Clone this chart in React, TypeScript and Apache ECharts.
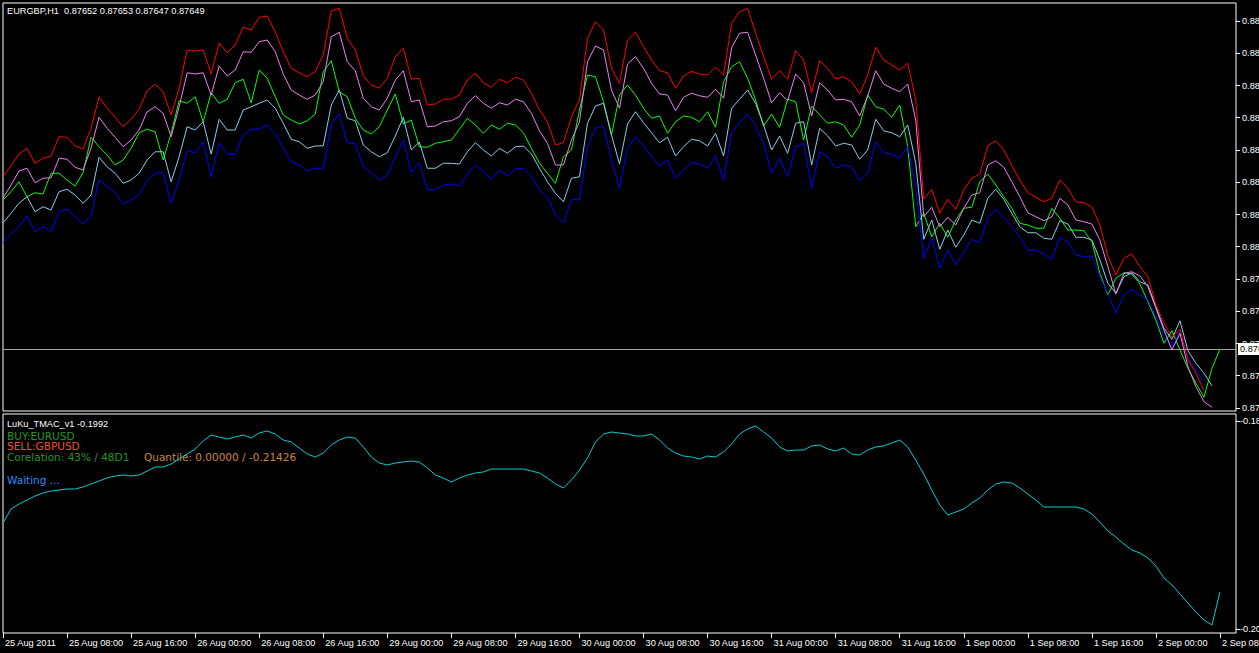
import { useEffect, useRef } from "react";
import * as echarts from "echarts";

// ---- time axis (H1 bars, weekend skipped) ----
const days = ["25 Aug", "26 Aug", "29 Aug", "30 Aug", "31 Aug", "1 Sep", "2 Sep"];
const lastDayHours = 11; // 2 Sep 00:00 .. 10:00 (last two slots are the empty right margin)
const firstLabel = "25 Aug 2011";

// ---- main chart price scale ----
const priceMin = 0.87401;
const priceMax = 0.89033;
const priceTicks = [0.87413, 0.87542, 0.87671, 0.878, 0.87929, 0.88058, 0.88187, 0.88316, 0.88445, 0.88574, 0.88703, 0.88832, 0.88961];
const lastClose = 0.87649;
const titleText = "EURGBP,H1  0.87652 0.87653 0.87647 0.87649";

// close price (green line)
const closePrice = [
  0.88245, 0.88278, 0.88318, 0.88258, 0.88274, 0.88269, 0.88352, 0.88352, 0.88325, 0.88301,
  0.88354, 0.88496, 0.88458, 0.88425, 0.88385, 0.88405, 0.88452, 0.88514, 0.88528, 0.88518,
  0.88405, 0.88512, 0.88642, 0.88632, 0.88658, 0.88558, 0.88674, 0.88632, 0.88648, 0.88714,
  0.88728, 0.88634, 0.88765, 0.88732, 0.88658, 0.88585, 0.88565, 0.88549, 0.88562, 0.88589,
  0.88758, 0.88802, 0.88678, 0.88658, 0.88572, 0.88525, 0.88509, 0.88538, 0.88605, 0.88669,
  0.88549, 0.88565, 0.88458, 0.88456, 0.88472, 0.88478, 0.88485, 0.88528, 0.88572, 0.88545,
  0.88512, 0.88545, 0.88528, 0.88552, 0.88545, 0.88514, 0.88452, 0.88392, 0.88352, 0.88312,
  0.88418, 0.88445, 0.88605, 0.88745, 0.88738, 0.88638, 0.88505, 0.88665, 0.88705, 0.88665,
  0.88612, 0.88572, 0.88581, 0.88512, 0.88558, 0.88581, 0.88576, 0.88558, 0.88598, 0.88536,
  0.88718, 0.88778, 0.88798, 0.88732, 0.88645, 0.88541, 0.88589, 0.88536, 0.88648, 0.88638,
  0.88485, 0.88621, 0.88585, 0.88552, 0.88558, 0.88545, 0.88496, 0.88545, 0.88665, 0.88618,
  0.88608, 0.88576, 0.88625, 0.88458, 0.88138, 0.88192, 0.88098, 0.88152, 0.88096, 0.88165,
  0.88212, 0.88216, 0.88318, 0.88349, 0.88305, 0.88258, 0.88212, 0.88152, 0.88145, 0.88132,
  0.88132, 0.88212, 0.88172, 0.88125, 0.88125, 0.88122, 0.88078, 0.87952, 0.87865, 0.87932,
  0.87954, 0.87949, 0.87909, 0.87838, 0.87765, 0.87672, 0.87722, 0.87645, 0.87572, 0.87512,
  0.87456, 0.87572, 0.87649,
];

// upper band (red)
const bandRed = [
  0.88338, 0.88382, 0.88429, 0.88452, 0.88392, 0.88412, 0.88421, 0.88498, 0.88496, 0.88461,
  0.88449, 0.88532, 0.88658, 0.88612, 0.88576, 0.88538, 0.88568, 0.88608, 0.88682, 0.88708,
  0.88678, 0.88585, 0.88692, 0.88845, 0.88841, 0.88845, 0.88749, 0.88874, 0.88834, 0.88865,
  0.88936, 0.88925, 0.88976, 0.88981, 0.88918, 0.88838, 0.88772, 0.88754, 0.88738, 0.88758,
  0.88825, 0.89001, 0.89012, 0.88892, 0.88845, 0.88741, 0.88705, 0.88692, 0.88732, 0.88818,
  0.88852, 0.88729, 0.88732, 0.88625, 0.88629, 0.88648, 0.88649, 0.88665, 0.88725, 0.88752,
  0.88714, 0.88696, 0.88728, 0.88714, 0.88736, 0.88725, 0.88672, 0.88605, 0.88558, 0.88465,
  0.88474, 0.88578, 0.88645, 0.88892, 0.88958, 0.88925, 0.88772, 0.88712, 0.88885, 0.88916,
  0.88858, 0.88805, 0.88762, 0.88754, 0.88692, 0.88741, 0.8876, 0.88749, 0.88745, 0.88776,
  0.88745, 0.88952, 0.88998, 0.89012, 0.88912, 0.88818, 0.88728, 0.88762, 0.88728, 0.88842,
  0.88805, 0.88674, 0.88802, 0.88772, 0.88729, 0.88738, 0.88718, 0.88669, 0.88745, 0.88856,
  0.88805, 0.88785, 0.88765, 0.88792, 0.88645, 0.88248, 0.88288, 0.88192, 0.88248, 0.88208,
  0.88285, 0.88332, 0.88349, 0.88462, 0.88482, 0.88445, 0.88382, 0.88325, 0.88274, 0.88256,
  0.88238, 0.88252, 0.88325, 0.88292, 0.88238, 0.88234, 0.88218, 0.88145, 0.88021, 0.87945,
  0.88012, 0.88029, 0.87978, 0.87938, 0.87825, 0.87754, 0.87696, 0.87728, 0.87605, 0.87552,
  0.87482,
];

// inner upper band (violet)
const bandViolet = [
  0.88252, 0.88305, 0.88361, 0.88372, 0.88314, 0.88332, 0.88334, 0.88412, 0.88408, 0.88376,
  0.88365, 0.88453, 0.88576, 0.88532, 0.88496, 0.88458, 0.88485, 0.88525, 0.88598, 0.88618,
  0.88592, 0.88498, 0.88618, 0.88754, 0.88749, 0.88754, 0.88665, 0.88781, 0.88741, 0.88765,
  0.88838, 0.88836, 0.88878, 0.88885, 0.88838, 0.88749, 0.88685, 0.88665, 0.88648, 0.88665,
  0.88718, 0.88898, 0.88916, 0.88798, 0.88762, 0.88652, 0.88618, 0.88605, 0.88652, 0.88725,
  0.88762, 0.88638, 0.88645, 0.88538, 0.88541, 0.88558, 0.88562, 0.88578, 0.88632, 0.88662,
  0.88632, 0.88612, 0.88634, 0.88625, 0.88648, 0.88638, 0.88592, 0.88522, 0.88472, 0.88385,
  0.88385, 0.88485, 0.88558, 0.88798, 0.88861, 0.88845, 0.88685, 0.88612, 0.88789, 0.88818,
  0.88772, 0.88712, 0.88669, 0.88665, 0.88602, 0.88656, 0.88672, 0.88662, 0.88656, 0.88688,
  0.88652, 0.88854, 0.88912, 0.88916, 0.88825, 0.88732, 0.88634, 0.88674, 0.88642, 0.88749,
  0.88714, 0.88581, 0.88714, 0.88685, 0.88645, 0.88648, 0.88638, 0.88581, 0.88661, 0.88762,
  0.88709, 0.88692, 0.88678, 0.88709, 0.88565, 0.88178, 0.88216, 0.88138, 0.88176, 0.88145,
  0.88212, 0.88265, 0.88274, 0.88385, 0.88402, 0.88376, 0.88318, 0.88258, 0.88194, 0.88178,
  0.88162, 0.88178, 0.88252, 0.88225, 0.88165, 0.88158, 0.88149, 0.88085, 0.87978, 0.87869,
  0.87952, 0.87958, 0.87941, 0.87898, 0.87812, 0.87725, 0.87645, 0.87712, 0.87578, 0.87498,
  0.87438, 0.87416,
];

// inner lower band (sky blue)
const bandSky = [
  0.88154, 0.88192, 0.88232, 0.88258, 0.88198, 0.88218, 0.88205, 0.88278, 0.88288, 0.88265,
  0.88232, 0.88265, 0.88416, 0.88378, 0.88352, 0.88312, 0.88325, 0.88352, 0.88405, 0.88438,
  0.88438, 0.88318, 0.88418, 0.88538, 0.88525, 0.88558, 0.88429, 0.88568, 0.88525, 0.88525,
  0.88605, 0.88618, 0.88632, 0.88645, 0.88612, 0.88552, 0.88488, 0.88478, 0.88452, 0.88461,
  0.88462, 0.88625, 0.88685, 0.88572, 0.88562, 0.88465, 0.88438, 0.88418, 0.88434, 0.88501,
  0.88576, 0.88445, 0.88477, 0.88372, 0.88372, 0.88392, 0.88392, 0.88389, 0.88438, 0.88474,
  0.88445, 0.88421, 0.88452, 0.88432, 0.88458, 0.88461, 0.88429, 0.88372, 0.88318, 0.88272,
  0.88238, 0.88332, 0.88338, 0.88552, 0.88621, 0.88632, 0.88505, 0.88389, 0.88549, 0.88598,
  0.88554, 0.88514, 0.88474, 0.88496, 0.88421, 0.88458, 0.88488, 0.88482, 0.88461, 0.88512,
  0.88421, 0.88612, 0.88648, 0.88685, 0.88632, 0.88545, 0.88445, 0.88501, 0.88432, 0.88552,
  0.88558, 0.88385, 0.88532, 0.88501, 0.88461, 0.88472, 0.88465, 0.88408, 0.88445, 0.88568,
  0.88522, 0.88514, 0.88498, 0.88545, 0.88392, 0.88088, 0.88165, 0.88048, 0.88125, 0.88056,
  0.88105, 0.88165, 0.88152, 0.88252, 0.88288, 0.88248, 0.88192, 0.88138, 0.88114, 0.88114,
  0.88092, 0.88088, 0.88162, 0.88149, 0.88096, 0.88096, 0.88085, 0.88005, 0.87912, 0.87872,
  0.87938, 0.87954, 0.87918, 0.87905, 0.87818, 0.87732, 0.87688, 0.87762, 0.87642, 0.87592,
  0.87552, 0.87502,
];

// lower band (blue)
const bandBlue = [
  0.88074, 0.88112, 0.88138, 0.88181, 0.88118, 0.88138, 0.88118, 0.88198, 0.88208, 0.88178,
  0.88149, 0.88181, 0.88328, 0.88298, 0.88274, 0.88229, 0.88245, 0.88265, 0.88325, 0.88352,
  0.88356, 0.88232, 0.88325, 0.88442, 0.88434, 0.88478, 0.88338, 0.88474, 0.88429, 0.88429,
  0.88505, 0.88528, 0.88528, 0.88545, 0.88512, 0.88452, 0.88398, 0.88385, 0.88361, 0.88372,
  0.88372, 0.88545, 0.88592, 0.88474, 0.88469, 0.88378, 0.88354, 0.88325, 0.88345, 0.88416,
  0.88485, 0.88354, 0.88394, 0.88288, 0.88285, 0.88305, 0.88309, 0.88301, 0.88349, 0.88385,
  0.88358, 0.88328, 0.88362, 0.88342, 0.88369, 0.88372, 0.88341, 0.88285, 0.88258, 0.88185,
  0.88154, 0.88248, 0.88245, 0.88458, 0.88532, 0.88541, 0.88405, 0.88292, 0.88452, 0.88498,
  0.88458, 0.88421, 0.88381, 0.88405, 0.88332, 0.88365, 0.88394, 0.88389, 0.88372, 0.88422,
  0.88325, 0.88514, 0.88554, 0.88589, 0.88541, 0.88472, 0.88352, 0.88412, 0.88338, 0.88458,
  0.88472, 0.88292, 0.88438, 0.88418, 0.88372, 0.88385, 0.88378, 0.88322, 0.88352, 0.88478,
  0.88434, 0.88429, 0.88412, 0.88461, 0.88298, 0.88012, 0.88092, 0.87972, 0.88045, 0.87985,
  0.88034, 0.88088, 0.88074, 0.88172, 0.88208, 0.88176, 0.88138, 0.88096, 0.88045, 0.88045,
  0.88029, 0.88008, 0.88096, 0.88078, 0.88025, 0.88018, 0.88021, 0.87938, 0.87872, 0.87792,
  0.87865, 0.87888, 0.87865, 0.87845, 0.87778, 0.87698, 0.87658, 0.87718, 0.87612, 0.87565,
  0.87518,
];

// ---- indicator window ----
const indMin = -0.2033;
const indMax = -0.1814;
const indTicks = [-0.1821, -0.2029];
const indName = "LuKu_TMAC_v1 -0.1992";
const indicator = [
  -0.1923, -0.1909, -0.1904, -0.19, -0.1896, -0.1893, -0.1891, -0.189, -0.1889, -0.1889,
  -0.1887, -0.1884, -0.1881, -0.1878, -0.1876, -0.1875, -0.1876, -0.1875, -0.1871, -0.1867,
  -0.1867, -0.1864, -0.1859, -0.1854, -0.1849, -0.1841, -0.1835, -0.1837, -0.1839, -0.1837,
  -0.1835, -0.1838, -0.1833, -0.1831, -0.1834, -0.184, -0.1842, -0.1848, -0.1854, -0.1857,
  -0.1853, -0.1845, -0.184, -0.1837, -0.1838, -0.1847, -0.1857, -0.1863, -0.1865, -0.1863,
  -0.1862, -0.1861, -0.1862, -0.1868, -0.1875, -0.1878, -0.1882, -0.1878, -0.1875, -0.1873,
  -0.1872, -0.1869, -0.1869, -0.1869, -0.1869, -0.1869, -0.1871, -0.1873, -0.1878, -0.1884,
  -0.1888, -0.188, -0.187, -0.1858, -0.1842, -0.1834, -0.1832, -0.1833, -0.1834, -0.1836,
  -0.1836, -0.1834, -0.184, -0.1848, -0.1853, -0.1856, -0.1857, -0.1859, -0.1856, -0.1857,
  -0.1852, -0.1844, -0.1834, -0.1829, -0.1826, -0.1832, -0.1838, -0.1847, -0.1851, -0.185,
  -0.185, -0.1846, -0.1845, -0.1849, -0.1851, -0.1848, -0.1854, -0.1855, -0.185, -0.1847,
  -0.1846, -0.1843, -0.184, -0.1847, -0.186, -0.1874, -0.189, -0.1905, -0.1915, -0.1912,
  -0.1909, -0.1903, -0.1898, -0.189, -0.1884, -0.1882, -0.1883, -0.1888, -0.1894, -0.19,
  -0.1907, -0.1907, -0.1907, -0.1907, -0.1907, -0.1909, -0.1914, -0.1922, -0.1931, -0.1937,
  -0.1944, -0.195, -0.1953, -0.1958, -0.1966, -0.1978, -0.1985, -0.1994, -0.2003, -0.2012,
  -0.202, -0.2025, -0.1992,
];

const infoLines = [
  { text: "BUY:EURUSD", color: "#1f9a1f", x: 7, y: 435.5 },
  { text: "SELL:GBPUSD", color: "#f2522d", x: 7, y: 446 },
  { text: "Corelation: 43% / 48D1", color: "#1f9a1f", x: 7, y: 457.3 },
  { text: "Quantile: 0.00000 / -0.21426", color: "#cd853f", x: 144, y: 457.3 },
  { text: "Waiting ...", color: "#1e90ff", x: 7, y: 480 },
];

const MT_FONT = "Liberation Sans";
const IND_FONT = "DejaVu Sans";

function buildCategories(): string[] {
  const out: string[] = [];
  days.forEach((d, di) => {
    const n = di === days.length - 1 ? lastDayHours : 24;
    for (let h = 0; h < n; h++) out.push(`${d} ${String(h).padStart(2, "0")}:00`);
  });
  return out;
}

export default function App() {
  const ref = useRef<HTMLDivElement>(null);

  useEffect(() => {
    if (!ref.current) return;
    const chart = echarts.init(ref.current, undefined, { renderer: "svg" });
    const categories = buildCategories();

    const lineSeries = (name: string, data: number[], color: string) => ({
      name,
      type: "line",
      xAxisIndex: 0,
      yAxisIndex: 0,
      data,
      showSymbol: false,
      symbol: "none",
      silent: true,
      lineStyle: { color, width: 1 },
      z: 3,
    });

    const gridBase = {
      left: 3,
      width: 1233,
      show: true,
      borderColor: "#ffffff",
      borderWidth: 1,
      backgroundColor: "transparent",
      containLabel: false,
      outerBoundsMode: "none",
    };

    const option: any = {
      animation: false,
      backgroundColor: "#000000",
      textStyle: { fontFamily: MT_FONT },
      grid: [
        { ...gridBase, top: 3, height: 408 },
        { ...gridBase, top: 414, height: 219 },
      ],
      xAxis: [
        {
          type: "category",
          gridIndex: 0,
          data: categories,
          boundaryGap: false,
          axisLine: { show: false },
          axisTick: { show: false },
          axisLabel: { show: false },
          splitLine: { show: false },
        },
        {
          type: "category",
          gridIndex: 1,
          data: categories,
          boundaryGap: false,
          axisLine: { show: false },
          axisTick: { show: true, interval: 7, length: 5, lineStyle: { color: "#ffffff", width: 1 } },
          axisLabel: {
            show: true,
            interval: 7,
            color: "#ffffff",
            fontFamily: MT_FONT,
            fontSize: 9.2,
            align: "left",
            margin: 5,
            padding: [0, 0, 0, 2],
            hideOverlap: false,
            formatter: (v: string, i: number) => (i === 0 ? firstLabel : v),
          },
          splitLine: { show: false },
        },
      ],
      yAxis: [
        {
          type: "value",
          gridIndex: 0,
          position: "right",
          min: priceMin,
          max: priceMax,
          axisLine: { show: false },
          splitLine: { show: false },
          axisTick: { show: true, customValues: priceTicks, length: 4, lineStyle: { color: "#ffffff" } },
          axisLabel: {
            customValues: priceTicks,
            color: "#ffffff",
            fontFamily: MT_FONT,
            fontSize: 9.2,
            margin: 6,
            formatter: (v: number) => v.toFixed(5),
          },
        },
        {
          type: "value",
          gridIndex: 1,
          position: "right",
          min: indMin,
          max: indMax,
          axisLine: { show: false },
          splitLine: { show: false },
          axisTick: { show: true, customValues: indTicks, length: 4, lineStyle: { color: "#ffffff" } },
          axisLabel: {
            customValues: indTicks,
            color: "#ffffff",
            fontFamily: MT_FONT,
            fontSize: 9.2,
            margin: 4,
            formatter: (v: number) => v.toFixed(4),
          },
        },
      ],
      series: [
        {
          ...lineSeries("Close", closePrice, "#00ff00"),
          z: 2,
          markLine: {
            silent: true,
            precision: 5,
            symbol: ["none", "none"],
            lineStyle: { color: "#a0a0a0", type: "solid", width: 1 },
            label: {
              show: true,
              position: "end",
              distance: 2,
              formatter: lastClose.toFixed(5),
              backgroundColor: "#ffffff",
              color: "#000000",
              fontFamily: MT_FONT,
              fontSize: 9.2,
              padding: [2, 2, 1, 2],
            },
            data: [{ yAxis: lastClose }],
          },
        },
        lineSeries("Lower band", bandBlue, "#0000ff"),
        lineSeries("Inner lower band", bandSky, "#87ceeb"),
        lineSeries("Inner upper band", bandViolet, "#ee82ee"),
        lineSeries("Upper band", bandRed, "#ff0000"),
        {
          name: "LuKu_TMAC_v1",
          type: "line",
          xAxisIndex: 1,
          yAxisIndex: 1,
          data: indicator,
          showSymbol: false,
          symbol: "none",
          silent: true,
          lineStyle: { color: "#00ced1", width: 1 },
        },
      ],
      graphic: [
        {
          type: "text",
          x: 7,
          y: 11,
          silent: true,
          style: { text: titleText, fill: "#ffffff", fontFamily: MT_FONT, fontSize: 9.2, verticalAlign: "middle" },
        },
        {
          type: "text",
          x: 7,
          y: 424,
          silent: true,
          style: { text: indName, fill: "#ffffff", fontFamily: MT_FONT, fontSize: 9.2, verticalAlign: "middle" },
        },
        ...infoLines.map((l) => ({
          type: "text",
          x: l.x,
          y: l.y,
          silent: true,
          style: { text: l.text, fill: l.color, fontFamily: IND_FONT, fontSize: 10.5, verticalAlign: "middle" },
        })),
      ],
    };

    chart.setOption(option);
    return () => chart.dispose();
  }, []);

  return (
    <div
      ref={ref}
      style={{ position: "fixed", left: 0, top: 0, width: 1259, height: 653, background: "#000000" }}
    />
  );
}
